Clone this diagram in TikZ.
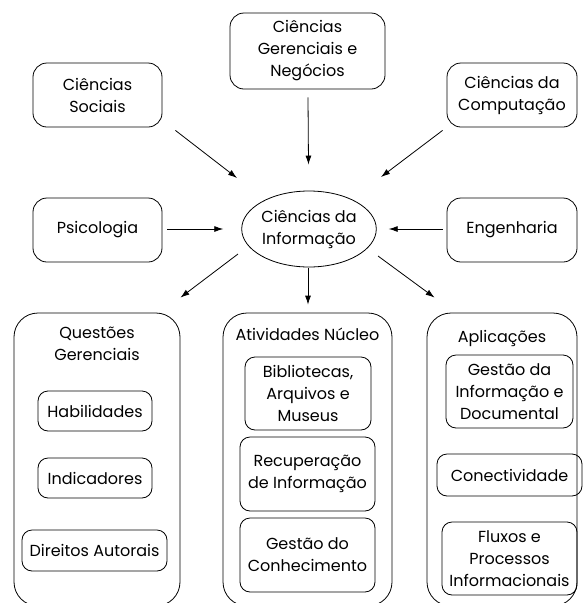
\documentclass[tikz,border=0pt]{standalone}
\usepackage{fontspec}
\setmainfont{Poppins}
\usetikzlibrary{arrows.meta,shapes.geometric}
\begin{document}
\begin{tikzpicture}[x=1pt,y=-1pt,
  every node/.style={font=\fontsize{16}{22}\selectfont, align=center, inner sep=0pt},
  outerbox/.style={draw, line width=0.8pt, rounded corners=14pt, rectangle},
  innerbox/.style={draw, line width=0.8pt, rounded corners=10pt, rectangle},
  bigbox/.style={draw, line width=0.8pt, rounded corners=24pt, rectangle},
  arr/.style={-{Latex[length=9pt,width=6pt]}, line width=0.8pt}]
\clip (0,0) rectangle (588,603);
\fill[white] (0,0) rectangle (588,603);
% top nodes
\node[outerbox, minimum width=129pt, minimum height=64pt] (soc) at (97.5,95) {Ciências\\Sociais};
\node[outerbox, minimum width=155pt, minimum height=76pt] (ger) at (307.5,51) {Ciências\\Gerenciais e\\Negócios};
\node[outerbox, minimum width=130pt, minimum height=64pt] (comp) at (512,95) {Ciências da\\Computação};
\node[outerbox, minimum width=129pt, minimum height=64pt] (psi) at (97.5,230) {Psicologia};
\node[outerbox, minimum width=130pt, minimum height=64pt] (eng) at (512,230) {Engenharia};
\node[draw, line width=0.8pt, ellipse, minimum width=128pt, minimum height=76pt] (ci) at (309,229) {Ciências da\\Informação};
% big boxes
\node[bigbox, minimum width=166pt, minimum height=293pt] (bl) at (97,459.5) {};
\node[bigbox, minimum width=169pt, minimum height=293pt] (bm) at (307.5,459.5) {};
\node[bigbox, minimum width=150pt, minimum height=293pt] (br) at (502,459.5) {};
\node (tl) at (97,344) {Questões\\Gerenciais};
\node (tm) at (307.5,334) {Atividades Núcleo};
\node (tr) at (502,338) {Aplicações};
% inner left
\node[innerbox, minimum width=114pt, minimum height=40pt] (hab) at (95,411) {Habilidades};
\node[innerbox, minimum width=114pt, minimum height=40pt] (ind) at (95,478) {Indicadores};
\node[innerbox, minimum width=145pt, minimum height=41pt] (dir) at (94.5,550.5) {Direitos Autorais};
% inner middle
\node[innerbox, minimum width=126pt, minimum height=73pt] (bib) at (308,393.5) {Bibliotecas,\\Arquivos e\\Museus};
\node[innerbox, minimum width=135pt, minimum height=74pt] (rec) at (307.5,474) {Recuperação\\de Informação};
\node[innerbox, minimum width=135pt, minimum height=74pt] (gc) at (307.5,555) {Gestão do\\Conhecimento};
% inner right
\node[innerbox, minimum width=127pt, minimum height=73pt] (gid) at (509.5,391.5) {Gestão da\\Informação e\\Documental};
\node[innerbox, minimum width=145pt, minimum height=42pt] (con) at (509.5,475) {Conectividade};
\node[innerbox, minimum width=135pt, minimum height=73pt] (flu) at (509.5,558.5) {Fluxos e\\Processos\\Informacionais};
% arrows
\draw[arr] ([shift={(13,3)}]soc.south east) -- ([shift={(-72,-51)}]ci.center);
\draw[arr] ([shift={(0.5,8)}]ger.south) -- ([shift={(-0.5,-26)}]ci.north);
\draw[arr] ([shift={(-4,3)}]comp.south west) -- ([shift={(72,-52)}]ci.center);
\draw[arr] ([shift={(5,-1)}]psi.east) -- ([shift={(-18,0)}]ci.west);
\draw[arr] ([shift={(-4,-1)}]eng.west) -- ([shift={(12,0)}]ci.east);
\draw[arr] ([shift={(-71,25)}]ci.center) -- ([shift={(0,-15)}]bl.north east);
\draw[arr] ([shift={(-1,1)}]ci.south) -- ([shift={(0.5,-8)}]bm.north);
\draw[arr] ([shift={(69,27)}]ci.center) -- ([shift={(8,-15)}]br.north west);
\end{tikzpicture}
\end{document}
